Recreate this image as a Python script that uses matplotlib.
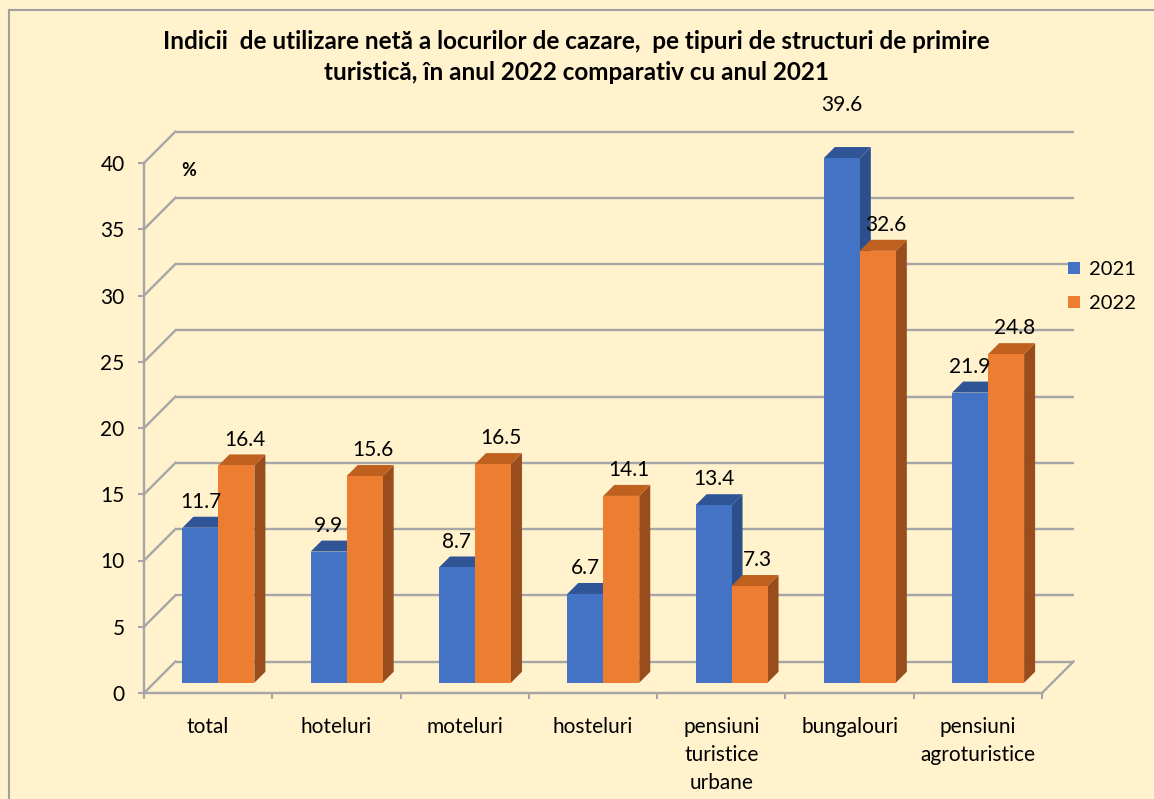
import matplotlib
matplotlib.use("Agg")
import matplotlib.pyplot as plt
from matplotlib.patches import Polygon, Patch
from matplotlib.lines import Line2D

plt.rcParams['font.family'] = ['Lato', 'DejaVu Sans']

# ---------------- data ----------------
categories = ["total", "hoteluri", "moteluri", "hosteluri",
              "pensiuni\nturistice\nurbane", "bungalouri", "pensiuni\nagroturistice"]
series_names = ["2021", "2022"]
values_2021 = [11.7, 9.9, 8.7, 6.7, 13.4, 39.6, 21.9]
values_2022 = [16.4, 15.6, 16.5, 14.1, 7.3, 32.6, 24.8]
yticks = [0, 5, 10, 15, 20, 25, 30, 35, 40]
title = ("Indicii  de utilizare netă a locurilor de cazare,  pe tipuri de structuri de primire\n"
         "turistică, în anul 2022 comparativ cu anul 2021")

# ---------------- style ----------------
BG = "#FFF2CC"
GRID = "#A6A6A6"
front_col = ["#4472C4", "#ED7D31"]
top_col = ["#2F5597", "#C0601F"]
side_col = ["#2C4F8C", "#9A4D1C"]
FS = 15

W_FIG, H_FIG = 1154, 799
fig = plt.figure(figsize=(W_FIG / 100, H_FIG / 100), dpi=100, facecolor=BG)

# front plane pixel frame
X0, X1 = 144, 1042
Y0, Y1 = 693, 163
ax = fig.add_axes([X0 / W_FIG, (H_FIG - Y0) / H_FIG, (X1 - X0) / W_FIG, (Y0 - Y1) / H_FIG])
ax.set_facecolor("none")
ncat = len(categories)
ax.set_xlim(0, ncat)
ax.set_ylim(0, 40)
PXX = (X1 - X0) / ncat
PXY = (Y0 - Y1) / 40.0


def off(px):
    return px / PXX, px / PXY


for sp in ax.spines.values():
    sp.set_visible(False)

DEPTH = 31.5
dxf, dyf = off(DEPTH)
lw = 1.7
# back wall gridlines & left wall diagonals
for v in yticks:
    ax.plot([dxf, ncat + dxf], [v + dyf, v + dyf], color=GRID, lw=lw, clip_on=False, zorder=1,
            solid_capstyle='butt')
    ax.plot([0, dxf], [v, v + dyf], color=GRID, lw=lw, clip_on=False, zorder=1)
# floor front edge, right edge, y axis
ax.plot([0, ncat], [0, 0], color=GRID, lw=lw, clip_on=False, zorder=1)
ax.plot([ncat, ncat + dxf], [0, dyf], color=GRID, lw=lw, clip_on=False, zorder=1)
ax.plot([0, 0], [0, 40], color=GRID, lw=lw, clip_on=False, zorder=1)

# ticks
ax.set_yticks(yticks)
ax.set_yticklabels([str(t) for t in yticks], fontsize=FS)
ax.set_xticks(range(ncat + 1))
ax.set_xticklabels([])
ax.tick_params(axis='both', which='major', direction='out', length=4, width=1.5, color=GRID)
ax.tick_params(axis='y', pad=10)
ax.set_xticks([i + 0.5 for i in range(ncat)], minor=True)
ax.set_xticklabels(categories, minor=True, fontsize=FS, linespacing=1.5, va='top')
ax.tick_params(axis='x', which='minor', length=0, pad=17)

# bars
BW = 36 / PXX
d0x, d0y = off(10.25)
bdx, bdy = off(11)
all_vals = [values_2021, values_2022]
for i in range(ncat):
    for s, vals in enumerate(all_vals):
        v = vals[i]
        x0 = i + 0.5 - BW + s * BW + d0x
        x1 = x0 + BW
        b = d0y
        z = 3 + i * 0.1 + s * 0.05
        side = Polygon([(x1, b), (x1 + bdx, b + bdy), (x1 + bdx, b + v + bdy), (x1, b + v)],
                       closed=True, facecolor=side_col[s], edgecolor='none', zorder=z, clip_on=False)
        top = Polygon([(x0, b + v), (x1, b + v), (x1 + bdx, b + v + bdy), (x0 + bdx, b + v + bdy)],
                      closed=True, facecolor=top_col[s], edgecolor='none', zorder=z, clip_on=False)
        ax.add_patch(side)
        ax.add_patch(top)
        ax.bar(x0, v, width=BW, bottom=b, align='edge', color=front_col[s], zorder=z + 0.01,
               clip_on=False, linewidth=0)
        # data labels
        lx = (x0 + x1) / 2 + (8 / PXX if s == 1 else 0)
        extra = 27 if v >= 39 else 0
        ly = b + v + (36 - 10.25 + extra) / PXY
        ax.text(lx, ly, f"{v:.1f}", ha='center', va='center', fontsize=FS, color='black',
                zorder=10, clip_on=False)

# "%" label
fig.text(189 / W_FIG, 1 - 171 / H_FIG, "%", ha='center', va='center', fontsize=13,
         fontweight='bold')

# title
fig.text(576 / W_FIG, 1 - 57 / H_FIG, title, ha='center', va='center', fontsize=17.5,
         fontweight='bold', linespacing=1.4)

# legend
handles = [Patch(facecolor=front_col[k], edgecolor='none') for k in range(2)]
fig.legend(handles, series_names, loc='upper left', bbox_to_anchor=(1068 / W_FIG, 1 - 261 / H_FIG),
           frameon=False, fontsize=14.5, handlelength=0.6, handleheight=0.6, handletextpad=0.45,
           labelspacing=0.85, borderaxespad=0, borderpad=0)

# outer border (top and left visible)
fig.add_artist(Line2D([9 / W_FIG, 9 / W_FIG], [0, 1 - 10 / H_FIG], transform=fig.transFigure,
                      color="#A0A0A0", lw=1.5))
fig.add_artist(Line2D([9 / W_FIG, 1], [1 - 10 / H_FIG, 1 - 10 / H_FIG], transform=fig.transFigure,
                      color="#A0A0A0", lw=1.5))

fig.savefig("out.png", dpi=100, facecolor=BG)
